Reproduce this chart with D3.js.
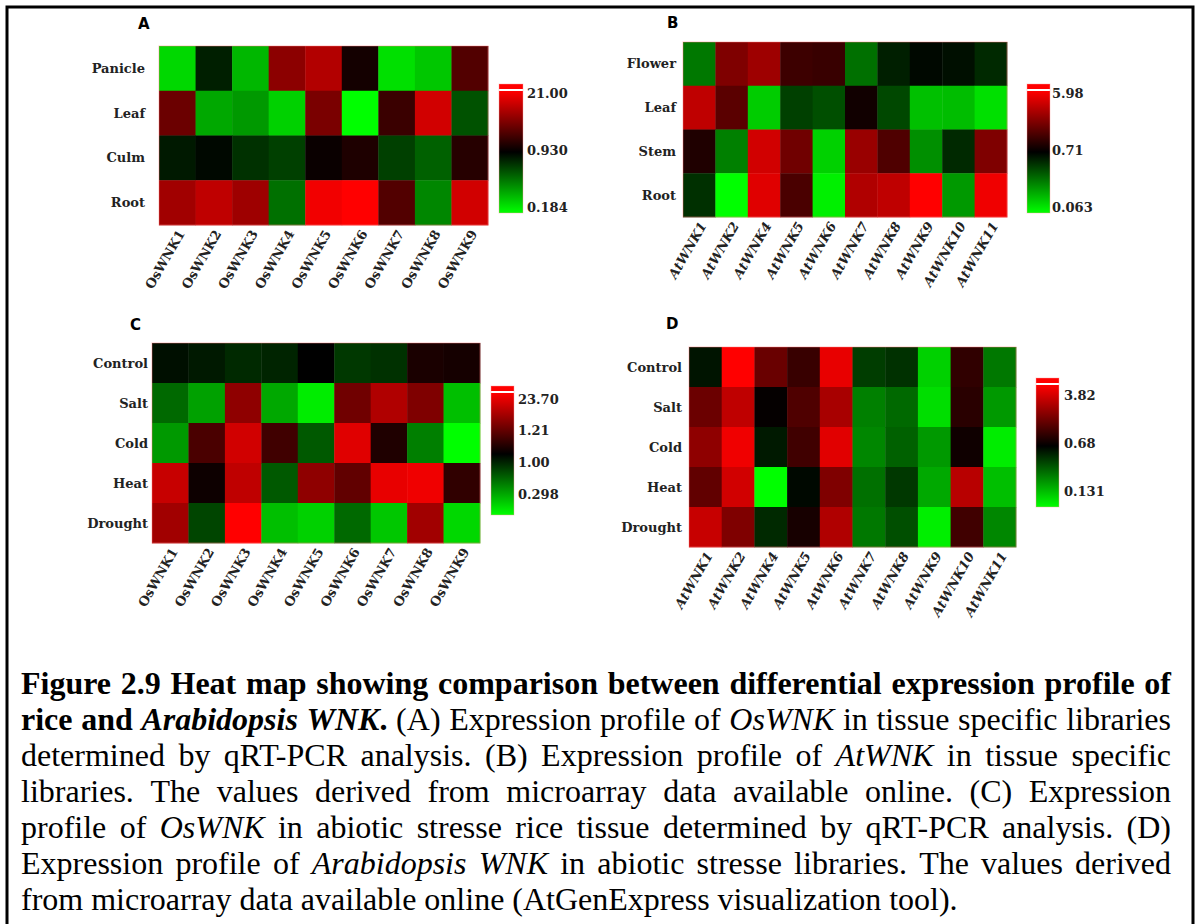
<!DOCTYPE html>
<html lang="en">
<head>
<meta charset="UTF-8">
<title>WNK heat maps</title>
<script src="https://cdnjs.cloudflare.com/ajax/libs/d3/7.8.5/d3.min.js"></script>
<style>
    body { margin: 0; background: #fff; }
    .rowlab, .collab, .leglab { font-family: "DejaVu Serif", serif; font-weight: bold; font-size: 13px; fill: #222; }
    .letter { font-family: "DejaVu Sans", sans-serif; font-weight: bold; font-size: 15px; }
    .caption { font-family: "Liberation Serif", "Times New Roman", serif; font-size: 32px; }
</style>
</head>
<body>
<svg id="fig" width="1200" height="924"></svg>
<script>
// ---- data ----
var genesOs = ["OsWNK1", "OsWNK2", "OsWNK3", "OsWNK4", "OsWNK5", "OsWNK6", "OsWNK7", "OsWNK8", "OsWNK9"];
var genesAt = ["AtWNK1", "AtWNK2", "AtWNK4", "AtWNK5", "AtWNK6", "AtWNK7", "AtWNK8", "AtWNK9", "AtWNK10", "AtWNK11"];
var tissuesOs = ["Panicle", "Leaf", "Culm", "Root"];
var tissuesAt = ["Flower", "Leaf", "Stem", "Root"];
var stresses = ["Control", "Salt", "Cold", "Heat", "Drought"];

// A: OsWNK tissue qRT-PCR
var valuesA = [
    [0.235, 0.766, 0.290, 5.16, 8.24, 1.19, 0.224, 0.263, 2.52],
    [3.44, 0.319, 0.352, 0.246, 4.15, 0.184, 1.90, 12.0, 0.554],
    [0.791, 0.886, 0.683, 0.620, 1.05, 1.35, 0.620, 0.502, 1.48],
    [6.63, 9.63, 6.42, 0.456, 18.0, 21.0, 2.52, 0.394, 12.0]
];
// B: AtWNK tissue microarray
var valuesB = [
    [0.228, 2.06, 2.66, 1.18, 1.13, 0.245, 0.531, 0.660, 0.614, 0.482],
    [3.51, 1.50, 0.102, 0.387, 0.335, 0.820, 0.360, 0.115, 0.118, 0.0843],
    [0.920, 0.211, 4.07, 1.81, 0.0975, 2.55, 1.37, 0.183, 0.482, 2.06],
    [0.448, 0.063, 4.63, 1.32, 0.0729, 3.09, 3.51, 5.98, 0.166, 5.26]
];
// C: OsWNK abiotic stress qRT-PCR
var valuesC = [
    [1.02, 0.966, 0.893, 0.916, 1.10, 0.825, 0.858, 1.50, 1.41],
    [0.644, 0.483, 6.14, 0.465, 0.326, 4.25, 9.15, 5.10, 0.413],
    [0.502, 2.68, 13.6, 2.37, 0.697, 16.4, 1.59, 0.573, 0.298],
    [12.1, 1.28, 11.0, 0.697, 6.14, 3.53, 18.0, 19.7, 1.97],
    [7.61, 0.773, 23.7, 0.413, 0.377, 0.644, 0.397, 7.61, 0.363]
];
// D: AtWNK abiotic stress microarray
var valuesD = [
    [0.596, 3.82, 1.38, 0.994, 3.27, 0.458, 0.497, 0.176, 0.944, 0.314],
    [1.40, 2.48, 0.704, 1.16, 2.12, 0.298, 0.346, 0.162, 0.896, 0.253],
    [1.79, 3.44, 0.577, 1.047, 3.11, 0.284, 0.364, 0.253, 0.754, 0.147],
    [1.31, 2.80, 0.131, 0.647, 1.61, 0.329, 0.473, 0.229, 2.36, 0.198],
    [2.61, 1.61, 0.522, 0.794, 2.24, 0.314, 0.408, 0.145, 1.047, 0.284]
];

// colour domains [min, mid, max] and legend labels
var domainA = [0.184, 0.930, 21.00];
var domainB = [0.063, 0.71, 5.98];
var domainC = [0.298, 1.10, 23.70];
var domainD = [0.131, 0.68, 3.82];
var legendA = ["21.00", "0.930", "0.184"];
var legendB = ["5.98", "0.71", "0.063"];
var legendC = ["23.70", "1.21", "1.00", "0.298"];
var legendD = ["3.82", "0.68", "0.131"];

var captionLines = [
    [["b", "Figure 2.9 Heat map showing comparison between differential expression profile of"]],
    [["b", "rice and "], ["bi", "Arabidopsis WNK"], ["b", "."], ["n", " (A) Expression profile of "], ["i", "OsWNK"], ["n", " in tissue specific libraries"]],
    [["n", "determined by qRT-PCR analysis. (B) Expression profile of "], ["i", "AtWNK"], ["n", " in tissue specific"]],
    [["n", "libraries. The values derived from microarray data available online. (C) Expression"]],
    [["n", "profile of "], ["i", "OsWNK"], ["n", " in abiotic stresse rice tissue determined by qRT-PCR analysis. (D)"]],
    [["n", "Expression profile of "], ["i", "Arabidopsis WNK"], ["n", " in abiotic stresse libraries.  The values derived"]],
    [["n", "from microarray data available online (AtGenExpress visualization tool)."]]
];

// ---- layout ----
var panels = [
    {letter: "A", rows: tissuesOs, cols: genesOs, values: valuesA, domain: domainA, legend: legendA, italic: false,
        lx: 138, ly: 29, x0: 159, x1: 488, y0: 46, y1: 225, labR: 145,
        bx: 499, bw: 24, by0: 84, by1: 213, tx: 527, ty0: 93, ty1: 207},
    {letter: "B", rows: tissuesAt, cols: genesAt, values: valuesB, domain: domainB, legend: legendB, italic: true,
        lx: 667, ly: 28, x0: 683, x1: 1007, y0: 42, y1: 217, labR: 676,
        bx: 1027, bw: 23, by0: 84, by1: 213, tx: 1052, ty0: 93, ty1: 207},
    {letter: "C", rows: stresses, cols: genesOs, values: valuesC, domain: domainC, legend: legendC, italic: false,
        lx: 130, ly: 330, x0: 152, x1: 480, y0: 343, y1: 543, labR: 148,
        bx: 491, bw: 23, by0: 386, by1: 515, tx: 518, ty0: 399, ty1: 494},
    {letter: "D", rows: stresses, cols: genesAt, values: valuesD, domain: domainD, legend: legendD, italic: true,
        lx: 666, ly: 329, x0: 689, x1: 1016, y0: 347, y1: 547, labR: 682,
        bx: 1036, bw: 23, by0: 378, by1: 507, tx: 1064, ty0: 395, ty1: 491}
];

var svg = d3.select("#fig");
var defs = svg.append("defs");

svg.append("rect").attr("width", 1200).attr("height", 924).attr("fill", "#fff");
svg.append("path")
    .attr("d", "M7,930V7H1193V930")
    .attr("fill", "none").attr("stroke", "#000").attr("stroke-width", 3);

panels.forEach(function (p, k) {
    var g = svg.append("g");
    var x = d3.scaleBand().domain(p.cols).range([p.x0, p.x1]);
    var y = d3.scaleBand().domain(p.rows).range([p.y0, p.y1]);
    var color = d3.scaleLog().domain(p.domain)
        .range(["#00ff00", "#000000", "#ff0000"]).clamp(true);

    var cells = [];
    p.rows.forEach(function (r, i) {
        p.cols.forEach(function (c, j) {
            cells.push({r: r, c: c, v: p.values[i][j]});
        });
    });

    g.append("text").attr("class", "letter").attr("x", p.lx).attr("y", p.ly).text(p.letter);

    g.selectAll("rect.cell").data(cells).join("rect")
        .attr("class", "cell")
        .attr("x", function (d) { return x(d.c); })
        .attr("y", function (d) { return y(d.r); })
        .attr("width", x.bandwidth() + 0.4)
        .attr("height", y.bandwidth() + 0.4)
        .attr("fill", function (d) { return color(d.v); });

    g.append("rect")
        .attr("x", p.x0).attr("y", p.y0)
        .attr("width", p.x1 - p.x0).attr("height", p.y1 - p.y0)
        .attr("fill", "none").attr("stroke", "rgba(255,120,120,0.45)").attr("stroke-width", 1);

    g.selectAll("text.rowlab").data(p.rows).join("text")
        .attr("class", "rowlab")
        .attr("x", p.labR)
        .attr("y", function (d) { return y(d) + y.bandwidth() / 2; })
        .attr("dy", "0.35em")
        .attr("text-anchor", "end")
        .text(function (d) { return d; });

    g.selectAll("text.collab").data(p.cols).join("text")
        .attr("class", "collab")
        .attr("text-anchor", "end")
        .attr("font-style", p.italic ? "italic" : "normal")
        .attr("transform", function (d) {
            return "translate(" + (x(d) + x.bandwidth() / 2 + 4) + "," + (p.y1 + 6) + ")rotate(-60)";
        })
        .attr("dy", "0.35em")
        .text(function (d) { return d; });

    // legend bar
    var gid = "grad" + k;
    var grad = defs.append("linearGradient").attr("id", gid)
        .attr("x1", 0).attr("y1", 0).attr("x2", 0).attr("y2", 1);
    grad.selectAll("stop").data([p.domain[2], p.domain[1], p.domain[0]]).join("stop")
        .attr("offset", function (d, i) { return i / 2; })
        .attr("stop-color", function (d) { return color(d); });

    g.append("rect")
        .attr("x", p.bx).attr("y", p.by0 + 7)
        .attr("width", p.bw).attr("height", p.by1 - p.by0 - 7)
        .attr("fill", "url(#" + gid + ")");
    g.append("rect")
        .attr("x", p.bx).attr("y", p.by0)
        .attr("width", p.bw).attr("height", 5)
        .attr("fill", color(p.domain[2]));
    g.append("rect")
        .attr("x", p.bx).attr("y", p.by0)
        .attr("width", p.bw).attr("height", p.by1 - p.by0)
        .attr("fill", "none").attr("stroke", "rgba(255,160,160,0.5)").attr("stroke-width", 0.8);

    var ly = d3.scalePoint().domain(p.legend).range([p.ty0, p.ty1]);
    g.selectAll("text.leglab").data(p.legend).join("text")
        .attr("class", "leglab")
        .attr("x", p.tx)
        .attr("y", function (d) { return ly(d); })
        .attr("dy", "0.35em")
        .text(function (d) { return d; });
});

// ---- justified caption ----
var CAP_LEFT = 21, CAP_RIGHT = 1171, CAP_TOP = 694, CAP_STEP = 36;

function toWords(segs) {
    var words = [], cur = [];
    segs.forEach(function (s) {
        s[1].split(/( +)/).forEach(function (part) {
            if (part === "") return;
            if (/^ +$/.test(part)) {
                if (cur.length) { words.push(cur); cur = []; }
            } else {
                cur.push([s[0], part]);
            }
        });
    });
    if (cur.length) words.push(cur);
    return words;
}

var cap = svg.append("g").attr("class", "caption");
captionLines.forEach(function (segs, li) {
    var words = toWords(segs);
    var line = cap.append("text").attr("y", CAP_TOP + li * CAP_STEP);
    var spans = words.map(function (w) {
        var ws = line.append("tspan");
        w.forEach(function (piece) {
            ws.append("tspan")
                .attr("font-weight", piece[0].indexOf("b") >= 0 ? "bold" : "normal")
                .attr("font-style", piece[0].indexOf("i") >= 0 ? "italic" : "normal")
                .text(piece[1]);
        });
        return ws;
    });
    var widths = spans.map(function (s) { return s.node().getComputedTextLength(); });
    var total = d3.sum(widths);
    var last = li === captionLines.length - 1;
    var gap = last ? 8 : (CAP_RIGHT - CAP_LEFT - total) / (words.length - 1);
    var xpos = CAP_LEFT;
    spans.forEach(function (s, i) {
        s.attr("x", xpos);
        xpos += widths[i] + gap;
    });
});
</script>
</body>
</html>
